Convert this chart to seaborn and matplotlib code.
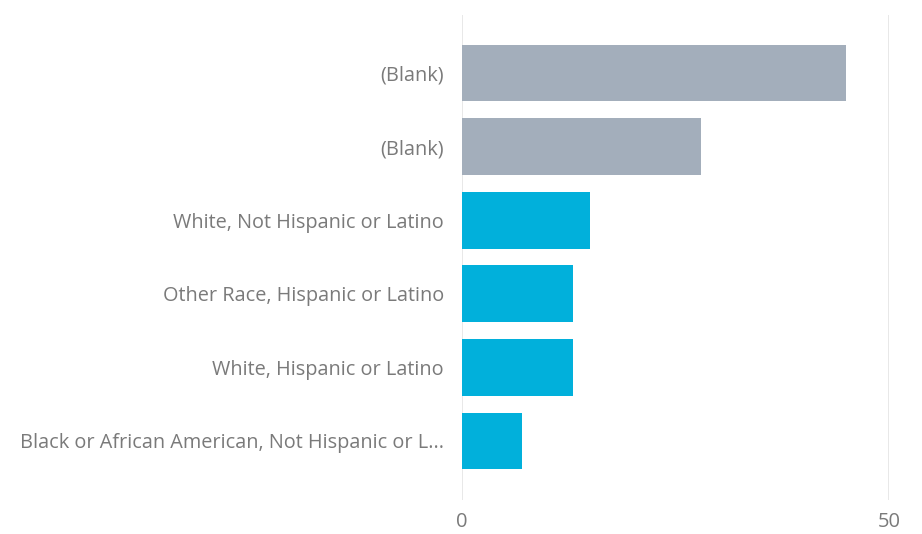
import matplotlib
matplotlib.use("Agg")
import matplotlib.pyplot as plt
import seaborn as sns
import pandas as pd

labels = [
    "(Blank)",
    "(Blank)",
    "White, Not Hispanic or Latino",
    "Other Race, Hispanic or Latino",
    "White, Hispanic or Latino",
    "Black or African American, Not Hispanic or L...",
]
values = [45, 28, 15, 13, 13, 7]
groups = ["blank", "blank", "known", "known", "known", "known"]
palette = {"blank": "#A3AEBB", "known": "#01B0DB"}
x_ticks = [0, 50]

sns.set_theme(style="white")
plt.rcParams["font.family"] = ["Open Sans", "DejaVu Sans"]

df = pd.DataFrame({
    "slot": [f"s{i}" for i in range(len(labels))],
    "value": values,
    "group": groups,
})

fig = plt.figure(figsize=(9.22, 5.34), dpi=100)
ax = fig.add_axes([0.501, 0.064, 0.463, 0.908])

sns.barplot(data=df, x="value", y="slot", hue="group", palette=palette,
            dodge=False, width=0.77, legend=False, ax=ax, saturation=1,
            linewidth=0)

ax.set_xlim(0, 50)
ax.set_ylim(5.8, -0.79)
ax.set_xticks(x_ticks)
ax.set_yticks(range(len(labels)))
ax.set_yticklabels(labels)
ax.xaxis.grid(True, color="#E4E4E4", linewidth=1.2)
ax.set_axisbelow(True)
for s in ax.spines.values():
    s.set_visible(False)
ax.tick_params(axis="y", length=0, pad=13, labelsize=14.3, labelcolor="#7A7A7A")
ax.tick_params(axis="x", length=0, pad=9, labelsize=14.5, labelcolor="#7A7A7A")
ax.set_xlabel("")
ax.set_ylabel("")

fig.savefig("out.png", dpi=100)
